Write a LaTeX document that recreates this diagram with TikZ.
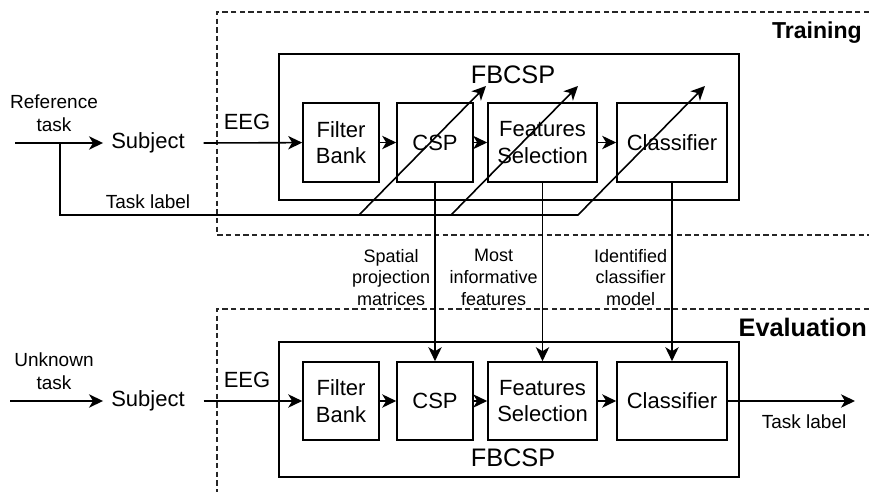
\documentclass[tikz,border=0pt]{standalone}
\usepackage{fontspec}
\setmainfont{Liberation Sans}
\usetikzlibrary{arrows.meta,positioning}

\begin{document}
\begin{tikzpicture}[x=1pt, y=-1pt,
      arr/.style={-{Stealth[length=10.5pt,width=10pt,inset=3pt]}, line width=1.2pt},
      block/.style={draw, line width=1.2pt, align=center, inner sep=1pt,
                    font=\fontsize{16.5}{20}\selectfont},
      frame/.style={draw, line width=1.2pt, minimum width=345pt},
      zone/.style={dash pattern=on 4pt off 2.5pt, line width=0.8pt, draw=black!85},
      main/.style={font=\fontsize{16.5}{20}\selectfont, inner sep=2pt},
      lbl/.style={font=\fontsize{14.25}{17.25}\selectfont, align=center, inner sep=2pt},
      small/.style={font=\fontsize{13.5}{16.2}\selectfont, align=center, inner sep=3pt},
      title/.style={font=\fontsize{19}{22}\selectfont, inner sep=0pt},
      phase/.style={font=\bfseries, anchor=east, inner sep=0pt}
    ]
    \useasboundingbox (0,0) rectangle (651.75,369);

    % dashed phase zones
    \draw[zone] (651.75,9) -- (162.75,9) -- (162.75,176.25) -- (651.75,176.25);
    \draw[zone] (651.75,231.75) -- (162.75,231.75) -- (162.75,369);
    \node[phase, font=\bfseries\fontsize{17.3}{20}\selectfont] (trainLbl) at (646.5,24.75) {Training};
    \node[phase, font=\bfseries\fontsize{19}{22}\selectfont] (evalLbl) at (650.25,245.25) {Evaluation};

    % training: FBCSP pipeline
    \node[frame, minimum height=109.5pt] (fbcspT) at (381.75,95.25) {};
    \node[title] (nameT) at (384.75,56.25) {FBCSP};
    \node[block, minimum width=57pt, minimum height=59.25pt] (bankT) at (255.75,106.875) {Filter\\Bank};
    \node[block, minimum width=57pt, minimum height=59.25pt] (cspT) at (326.25,106.875) {CSP};
    \node[block, minimum width=81.75pt, minimum height=59.25pt] (selT) at (406.875,106.875) {Features\\Selection};
    \node[block, minimum width=82.5pt, minimum height=59.25pt] (clfT) at (504,106.875) {Classifier};

    \node[main, inner xsep=6pt] (subjT) at (111,107.25) {Subject};
    \node[lbl] (refT) at (40.5,85) {Reference\\task};
    \node[main] (eegT) at (185.25,91.5) {EEG};
    \node[lbl] (taskT) at (111,151.5) {Task label};

    \coordinate (inT) at (11.25,107.25);
    \coordinate (tapT) at (45,107.25);
    \coordinate (bendA) at (269.25,161.25);
    \coordinate (bendB) at (338.25,161.25);
    \coordinate (bendC) at (433.5,161.25);
    \coordinate (tipA) at (364.5,64.5);
    \coordinate (tipB) at (433.5,64.5);
    \coordinate (tipC) at (528.75,64.5);

    \draw[arr] (inT) -- (subjT);
    \draw[arr] ([xshift=8pt]subjT.east) -- (bankT);
    \draw[arr] (bankT) -- (cspT);
    \draw[arr] (cspT) -- (selT);
    \draw[arr] (selT) -- (clfT);

    % task label fed to every trained stage
    \draw[arr] (tapT) |- (bendC) -- (tipC);
    \draw[arr] (bendA) -- (tipA);
    \draw[arr] (bendB) -- (tipB);

    % evaluation: same pipeline
    \node[frame, minimum height=101.25pt] (fbcspE) at (381.75,307.125) {};
    \node[title] (nameE) at (384.75,343.5) {FBCSP};
    \node[block, minimum width=57pt, minimum height=58.5pt] (bankE) at (255.75,300.75) {Filter\\Bank};
    \node[block, minimum width=57pt, minimum height=58.5pt] (cspE) at (326.25,300.75) {CSP};
    \node[block, minimum width=81.75pt, minimum height=58.5pt] (selE) at (406.875,300.75) {Features\\Selection};
    \node[block, minimum width=82.5pt, minimum height=58.5pt] (clfE) at (504,300.75) {Classifier};

    \node[main, inner xsep=6pt] (subjE) at (111,300.75) {Subject};
    \node[lbl] (unkE) at (40.5,278.25) {Unknown\\task};
    \node[main] (eegE) at (185.25,285) {EEG};

    \coordinate (inE) at (7.5,300.75);
    \coordinate (outE) at (641.25,300.75);

    \draw[arr] (inE) -- (subjE);
    \draw[arr] ([xshift=8pt]subjE.east) -- (bankE);
    \draw[arr] (bankE) -- (cspE);
    \draw[arr] (cspE) -- (selE);
    \draw[arr] (selE) -- (clfE);
    \draw[arr] (clfE) -- (outE) node[lbl, below=8pt, pos=0.6] (taskE) {Task label};

    % trained parameters passed down
    \draw[arr] (cspT) -- (cspE) node[small, left, pos=0.53] (projLbl) {Spatial\\projection\\matrices};
    \draw[arr] (selT) -- (selE) node[small, left, pos=0.53] (featLbl) {Most\\informative\\features};
    \draw[arr] (clfT) -- (clfE) node[small, left, pos=0.53] (modelLbl) {Identified\\classifier\\model};
  \end{tikzpicture}
\end{document}
